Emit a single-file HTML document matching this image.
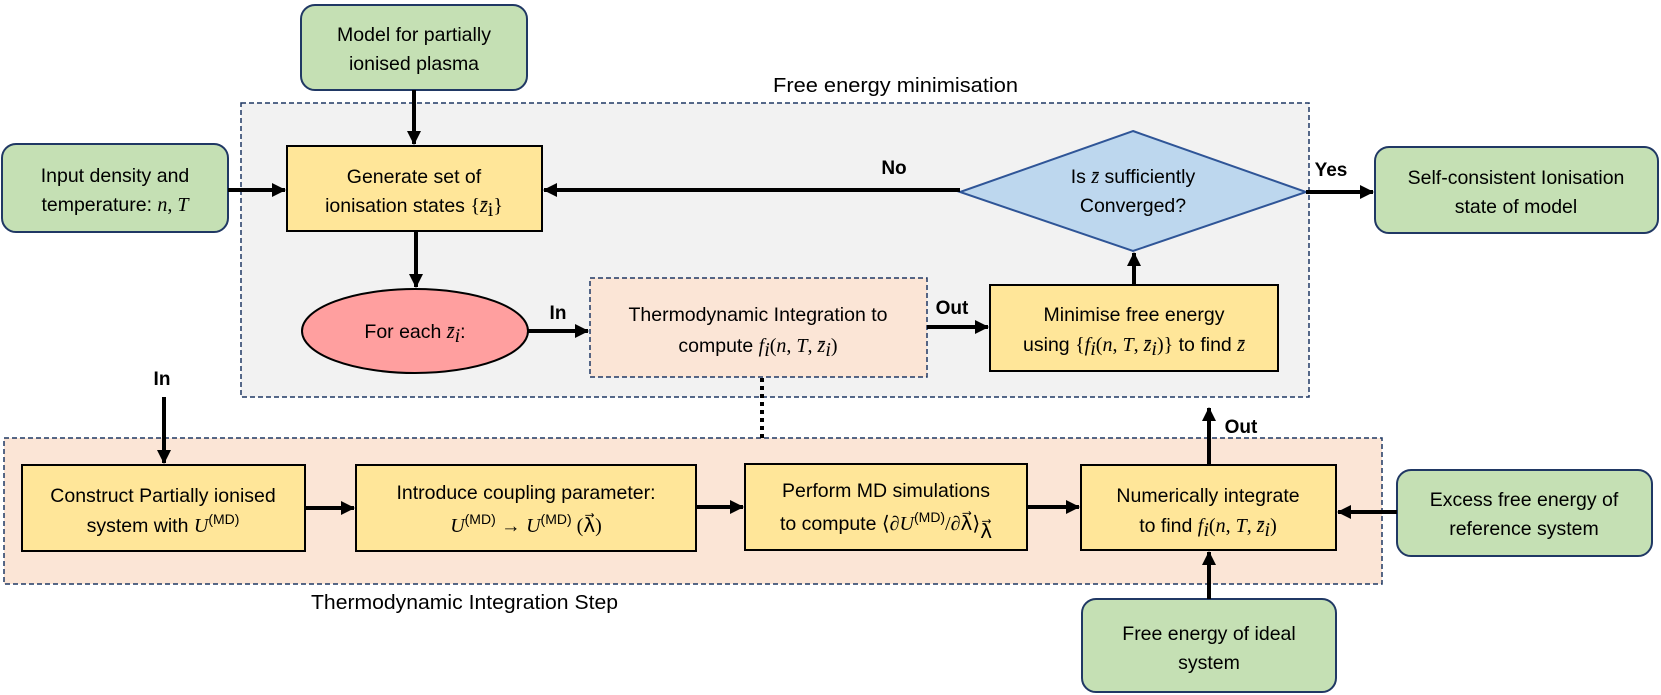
<!DOCTYPE html>
<html><head><meta charset="utf-8"><style>
html,body{margin:0;padding:0;background:#fff;}
svg{display:block;}
text{font-family:"Liberation Sans",sans-serif;font-size:19.5px;fill:#000;}
.m{font-family:"Liberation Serif",serif;font-style:italic;font-size:20px;}
.r{font-family:"Liberation Serif",serif;font-size:20px;}
.b{font-weight:bold;font-size:19px;}
.lbl{font-size:20px;}
</style></head><body>
<svg width="1661" height="695" viewBox="0 0 1661 695" xmlns="http://www.w3.org/2000/svg">
<defs>
<marker id="ah" markerWidth="14" markerHeight="14" refX="13" refY="7" orient="auto" markerUnits="userSpaceOnUse">
<path d="M0,0 L14,7 L0,14 z" fill="#000"/></marker>
</defs>

<rect x="241" y="103" width="1068" height="294" fill="#f2f2f2" stroke="#1f3864" stroke-width="1.5" stroke-dasharray="5,3"/>
<text x="773" y="92" class="lbl" textLength="245" lengthAdjust="spacingAndGlyphs">Free energy minimisation</text>
<rect x="4" y="438" width="1378" height="146" fill="#fbe5d6" stroke="#1f3864" stroke-width="1.5" stroke-dasharray="5,3"/>
<text x="311" y="609" class="lbl" textLength="307" lengthAdjust="spacingAndGlyphs">Thermodynamic Integration Step</text>

<rect x="301" y="5" width="226" height="85" rx="14" fill="#c5e0b4" stroke="#203864" stroke-width="2"/>
<text x="414" y="41" text-anchor="middle">Model for partially</text>
<text x="414" y="70" text-anchor="middle">ionised plasma</text>

<rect x="2" y="144" width="226" height="88" rx="14" fill="#c5e0b4" stroke="#203864" stroke-width="2"/>
<text x="115" y="182" text-anchor="middle">Input density and</text>
<text x="115" y="211" text-anchor="middle">temperature: <tspan class="m">n</tspan><tspan class="r">, </tspan><tspan class="m">T</tspan></text>

<rect x="1375" y="147" width="283" height="86" rx="14" fill="#c5e0b4" stroke="#203864" stroke-width="2"/>
<text x="1516" y="184" text-anchor="middle">Self-consistent Ionisation</text>
<text x="1516" y="213" text-anchor="middle">state of model</text>

<rect x="1397" y="470" width="255" height="86" rx="14" fill="#c5e0b4" stroke="#203864" stroke-width="2"/>
<text x="1524" y="506" text-anchor="middle">Excess free energy of</text>
<text x="1524" y="535" text-anchor="middle">reference system</text>

<rect x="1082" y="599" width="254" height="93" rx="14" fill="#c5e0b4" stroke="#203864" stroke-width="2"/>
<text x="1209" y="640" text-anchor="middle">Free energy of ideal</text>
<text x="1209" y="669" text-anchor="middle">system</text>

<rect x="287" y="146" width="255" height="85" fill="#ffe699" stroke="#000" stroke-width="2"/>
<text x="414" y="183" text-anchor="middle">Generate set of</text>
<text x="414" y="212" text-anchor="middle">ionisation states <tspan class="r">{</tspan><tspan class="m">z̄</tspan><tspan class="r" font-size="14" dy="4">i</tspan><tspan class="r" dy="-4">}</tspan></text>

<rect x="990" y="285" width="288" height="86" fill="#ffe699" stroke="#000" stroke-width="2"/>
<text x="1134" y="321" text-anchor="middle">Minimise free energy</text>
<text x="1134" y="351" text-anchor="middle">using <tspan class="r">{</tspan><tspan class="m">f</tspan><tspan class="m" font-size="14" dy="4">i</tspan><tspan class="r" dy="-4">(</tspan><tspan class="m">n</tspan><tspan class="r">, </tspan><tspan class="m">T</tspan><tspan class="r">, </tspan><tspan class="m">z̄</tspan><tspan class="m" font-size="14" dy="4">i</tspan><tspan class="r" dy="-4">)}</tspan> to find <tspan class="m">z̄</tspan></text>

<rect x="22" y="465" width="283" height="86" fill="#ffe699" stroke="#000" stroke-width="2"/>
<text x="163" y="502" text-anchor="middle">Construct Partially ionised</text>
<text x="163" y="532" text-anchor="middle">system with <tspan class="m">U</tspan><tspan font-size="14" dy="-8">(MD)</tspan></text>

<rect x="356" y="465" width="340" height="86" fill="#ffe699" stroke="#000" stroke-width="2"/>
<text x="526" y="499" text-anchor="middle">Introduce coupling parameter:</text>
<text x="526" y="532" text-anchor="middle"><tspan class="m">U</tspan><tspan font-size="14" dy="-8">(MD)</tspan><tspan dy="8"> → </tspan><tspan class="m">U</tspan><tspan font-size="14" dy="-8">(MD)</tspan><tspan class="r" dy="8"> (λ⃗)</tspan></text>

<rect x="745" y="464" width="282" height="86" fill="#ffe699" stroke="#000" stroke-width="2"/>
<text x="886" y="497" text-anchor="middle">Perform MD simulations</text>
<text x="886" y="530" text-anchor="middle">to compute <tspan class="r">⟨∂</tspan><tspan class="m">U</tspan><tspan font-size="14" dy="-8">(MD)</tspan><tspan class="r" dy="8">/∂λ⃗⟩</tspan><tspan class="r" font-size="12" dy="8">λ⃗</tspan></text>

<rect x="1081" y="465" width="255" height="85" fill="#ffe699" stroke="#000" stroke-width="2"/>
<text x="1208" y="502" text-anchor="middle">Numerically integrate</text>
<text x="1208" y="532" text-anchor="middle">to find <tspan class="m">f</tspan><tspan class="m" font-size="14" dy="4">i</tspan><tspan class="r" dy="-4">(</tspan><tspan class="m">n</tspan><tspan class="r">, </tspan><tspan class="m">T</tspan><tspan class="r">, </tspan><tspan class="m">z̄</tspan><tspan class="m" font-size="14" dy="4">i</tspan><tspan class="r" dy="-4">)</tspan></text>

<rect x="590" y="278" width="337" height="99" fill="#fbe5d6" stroke="#1f3864" stroke-width="1.5" stroke-dasharray="5,3"/>
<text x="758" y="321" text-anchor="middle">Thermodynamic Integration to</text>
<text x="758" y="352" text-anchor="middle">compute <tspan class="m">f</tspan><tspan class="m" font-size="14" dy="4">i</tspan><tspan class="r" dy="-4">(</tspan><tspan class="m">n</tspan><tspan class="r">, </tspan><tspan class="m">T</tspan><tspan class="r">, </tspan><tspan class="m">z̄</tspan><tspan class="m" font-size="14" dy="4">i</tspan><tspan class="r" dy="-4">)</tspan></text>

<ellipse cx="415" cy="331" rx="113" ry="42" fill="#ff9f9f" stroke="#000" stroke-width="2"/>
<text x="415" y="338" text-anchor="middle">For each <tspan class="m">z̄</tspan><tspan class="m" font-size="14" dy="4">i</tspan><tspan dy="-4">:</tspan></text>

<polygon points="1133,131 1306,192 1133,251 960,192" fill="#bdd7ee" stroke="#2f5597" stroke-width="2"/>
<text x="1133" y="183" text-anchor="middle">Is <tspan class="m">z̄</tspan> sufficiently</text>
<text x="1133" y="212" text-anchor="middle">Converged?</text>

<g stroke="#000" stroke-width="4" fill="none">
<line x1="414" y1="90" x2="414" y2="144" marker-end="url(#ah)"/>
<line x1="228" y1="190" x2="285" y2="190" marker-end="url(#ah)"/>
<line x1="960" y1="190" x2="544" y2="190" marker-end="url(#ah)"/>
<line x1="1306" y1="192" x2="1373" y2="192" marker-end="url(#ah)"/>
<line x1="416" y1="231" x2="416" y2="287" marker-end="url(#ah)"/>
<line x1="528" y1="331" x2="588" y2="331" marker-end="url(#ah)"/>
<line x1="927" y1="327" x2="988" y2="327" marker-end="url(#ah)"/>
<line x1="1134" y1="285" x2="1134" y2="253" marker-end="url(#ah)"/>
<line x1="164" y1="397" x2="164" y2="463" marker-end="url(#ah)"/>
<line x1="305" y1="508" x2="354" y2="508" marker-end="url(#ah)"/>
<line x1="696" y1="507" x2="743" y2="507" marker-end="url(#ah)"/>
<line x1="1027" y1="507" x2="1079" y2="507" marker-end="url(#ah)"/>
<line x1="1397" y1="512" x2="1338" y2="512" marker-end="url(#ah)"/>
<line x1="1209" y1="599" x2="1209" y2="552" marker-end="url(#ah)"/>
<line x1="1209" y1="465" x2="1209" y2="408" marker-end="url(#ah)"/>
</g>
<line x1="762" y1="378" x2="762" y2="438" stroke="#000" stroke-width="4" stroke-dasharray="4,4"/>

<text x="894" y="174" class="b" text-anchor="middle">No</text>
<text x="1331" y="176" class="b" text-anchor="middle">Yes</text>
<text x="558" y="319" class="b" text-anchor="middle">In</text>
<text x="952" y="314" class="b" text-anchor="middle">Out</text>
<text x="162" y="385" class="b" text-anchor="middle">In</text>
<text x="1241" y="433" class="b" text-anchor="middle">Out</text>
</svg>
</body></html>
